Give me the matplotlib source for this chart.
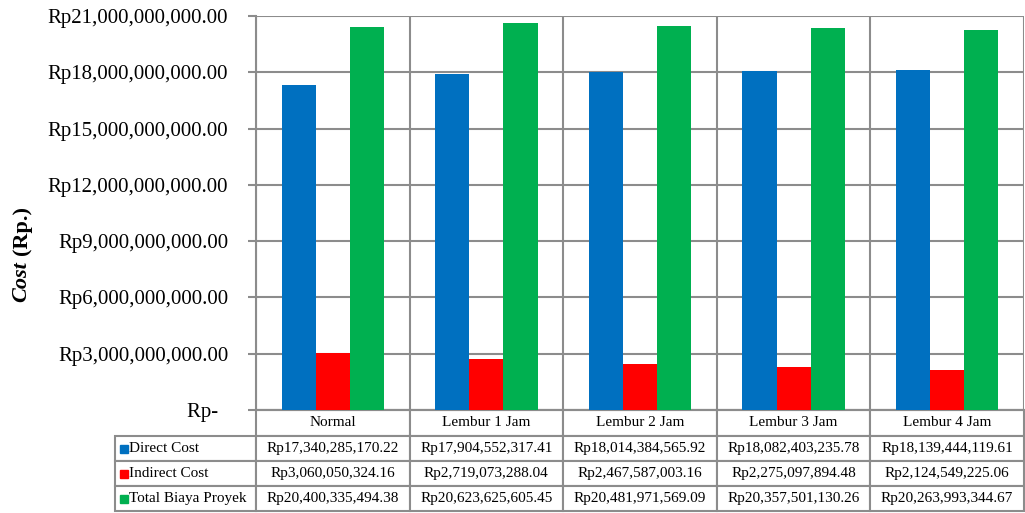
import matplotlib.pyplot as plt
from matplotlib.table import Table
from matplotlib.patches import Rectangle
from matplotlib.ticker import FuncFormatter

plt.rcParams['font.family'] = ['Liberation Serif', 'DejaVu Serif']

# data
categories = ['Normal', 'Lembur 1 Jam', 'Lembur 2 Jam', 'Lembur 3 Jam', 'Lembur 4 Jam']
series_names = ['Direct Cost', 'Indirect Cost', 'Total Biaya Proyek']
direct_cost = [17340285170.22, 17904552317.41, 18014384565.92, 18082403235.78, 18139444119.61]
indirect_cost = [3060050324.16, 2719073288.04, 2467587003.16, 2275097894.48, 2124549225.06]
total_cost = [20400335494.38, 20623625605.45, 20481971569.09, 20357501130.26, 20263993344.67]
colors = ['#0070C0', '#FF0000', '#00B050']
grid_col = '#8C8C8C'


def rp(v, pos=None):
    if v == 0:
        return 'Rp-  '
    return 'Rp{:,.2f}'.format(v)


fig = plt.figure(figsize=(10.25, 5.13), dpi=100)
ax = fig.add_axes([256 / 1025, 1 - 410 / 513, 768 / 1025, 394 / 513])

w = 1 / 4.5
x = range(len(categories))
for k, vals in enumerate([direct_cost, indirect_cost, total_cost]):
    ax.bar([i + (k - 1) * w for i in x], vals, width=w, color=colors[k], zorder=3)

ax.set_xlim(-0.5, len(categories) - 0.5)
ax.set_ylim(0, 21e9)
ax.set_yticks([i * 3e9 for i in range(8)])
ax.yaxis.set_major_formatter(FuncFormatter(rp))
ax.tick_params(axis='y', labelsize=15, length=6, width=1.5, color=grid_col, pad=14)
ax.set_xticks([])
ax.set_xticks([i - 0.5 for i in range(len(categories) + 1)], minor=True)
ax.tick_params(axis='x', which='minor', length=0, labelbottom=False)
ax.grid(axis='y', color=grid_col, lw=1.5, zorder=0)
ax.grid(axis='x', which='minor', color=grid_col, lw=1.5, zorder=0)
for s in ['top', 'right']:
    ax.spines[s].set_visible(False)
for s in ['left', 'bottom']:
    ax.spines[s].set_color(grid_col)
    ax.spines[s].set_linewidth(1.5)

# data table under the plot
tb = Table(ax, bbox=[(115 - 256) / 768, -101 / 394, 909 / 768, 101 / 394])
col_w = [141] + [153.6] * len(categories)
row_h = [26, 25, 25, 25]
rows = [[''] + categories]
for name, vals in zip(series_names, [direct_cost, indirect_cost, total_cost]):
    rows.append([name] + [rp(v) for v in vals])
for r, row in enumerate(rows):
    for c, txt in enumerate(row):
        cell = tb.add_cell(r, c, width=col_w[c], height=row_h[r], text=txt,
                           loc='left' if c == 0 else 'center',
                           edgecolor=grid_col, facecolor='white')
        cell.set_linewidth(1.5)
        if r == 0 and c == 0:
            cell.visible_edges = 'open'
tb.auto_set_font_size(False)
tb.set_fontsize(11)
ax.add_table(tb)

for k in range(3):
    yc = 448.5 + 25 * k
    ax.add_patch(Rectangle(((120 - 256) / 768, (410 - yc - 4) / 394), 8 / 768, 8 / 394,
                           transform=ax.transAxes, color=colors[k], clip_on=False, zorder=5))

# y label: "Cost" italic bold, "(Rp.)" bold
fig.text(0.021, 1 - 302 / 513, 'Cost', rotation=90, fontsize=16, fontweight='bold',
         fontstyle='italic', ha='center', va='bottom')
fig.text(0.021, 1 - 255 / 513, '(Rp.)', rotation=90, fontsize=16, fontweight='bold',
         ha='center', va='bottom')

fig.savefig('out.png', dpi=100)
